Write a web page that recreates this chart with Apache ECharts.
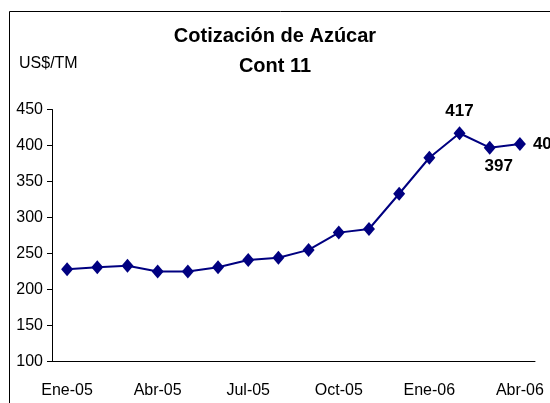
<!DOCTYPE html>
<html>
<head>
<meta charset="utf-8">
<script src="https://cdn.jsdelivr.net/npm/echarts@6/dist/echarts.min.js"></script>
<style>
    html, body { margin: 0; padding: 0; background: #fff; }
    #chart { width: 550px; height: 403px; }
</style>
</head>
<body>
<div id="chart"></div>
<script>
    var months = ['Ene-05', 'Feb-05', 'Mar-05', 'Abr-05', 'May-05', 'Jun-05', 'Jul-05', 'Ago-05',
                  'Sep-05', 'Oct-05', 'Nov-05', 'Dic-05', 'Ene-06', 'Feb-06', 'Mar-06', 'Abr-06'];
    var prices = [228, 231, 233, 225, 225, 231, 241, 244, 255, 279, 284, 333, 383, 417, 397, 402];
    // which points carry a value label, and where
    var labelPos = { 13: 'top', 14: 'bottom', 15: 'right' };

    var font = '"Liberation Sans", Arial, sans-serif';

    var seriesData = prices.map(function (v, i) {
        var item = { value: v };
        var pos = labelPos[i];
        if (pos) {
            item.label = {
                show: true,
                position: pos,
                distance: pos === 'top' ? 6 : (pos === 'bottom' ? 3 : 7),
                offset: pos === 'bottom' ? [9, 0] : [0, 0]
            };
        }
        return item;
    });

    var chart = echarts.init(document.getElementById('chart'));
    chart.setOption({
        animation: false,
        textStyle: { fontFamily: font },
        graphic: [{
            type: 'rect',
            shape: { x: 9.5, y: 11.5, width: 560, height: 420 },
            style: { fill: 'none', stroke: '#000', lineWidth: 1 }
        }, {
            type: 'text',
            left: 19, top: 56,
            style: { text: 'US$/TM', fontSize: 16, fontFamily: font, fill: '#000' }
        }],
        title: {
            text: 'Cotización de Azúcar\nCont 11',
            left: 'center',
            top: 16,
            textStyle: {
                fontFamily: font, fontSize: 20, fontWeight: 'bold', color: '#000', lineHeight: 30
            }
        },
        grid: { left: 52, right: 15, top: 109.5, bottom: 41.5 },
        xAxis: {
            type: 'category',
            data: months,
            boundaryGap: true,
            axisLine: { lineStyle: { color: '#000', width: 1 } },
            axisTick: { interval: 2, length: 5, lineStyle: { color: '#000' } },
            axisLabel: { interval: 2, color: '#000', fontSize: 16, margin: 21, fontFamily: font }
        },
        yAxis: {
            type: 'value',
            min: 100, max: 450, interval: 50,
            splitLine: { show: false },
            axisLine: { show: true, lineStyle: { color: '#000', width: 1 } },
            axisTick: { show: true, length: 5, lineStyle: { color: '#000' } },
            axisLabel: { color: '#000', fontSize: 16, margin: 9, fontFamily: font }
        },
        series: [{
            type: 'line',
            data: seriesData,
            symbol: 'diamond',
            symbolSize: [12, 14],
            lineStyle: { color: '#000080', width: 2 },
            itemStyle: { color: '#000080' },
            label: { show: false, color: '#000', fontSize: 17, fontWeight: 'bold', fontFamily: font }
        }]
    });
</script>
</body>
</html>
